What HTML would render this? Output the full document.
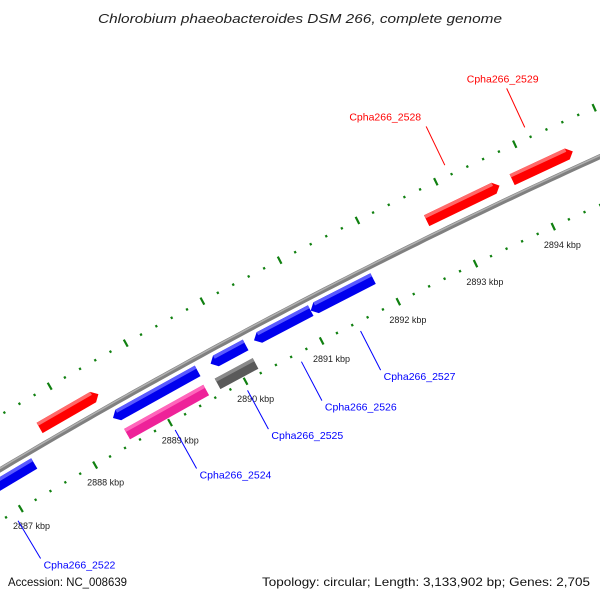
<!DOCTYPE html>
<html><head><meta charset="utf-8"><style>
html,body{margin:0;padding:0;background:#fff;}
svg{display:block;font-family:"Liberation Sans",sans-serif;}
</style></head><body>
<svg id="chart" width="600" height="600" viewBox="0 0 600 600">
<rect width="600" height="600" fill="#fff"/>
<text x="98" y="23" textLength="404" lengthAdjust="spacingAndGlyphs" font-size="13" font-style="italic" fill="#222">Chlorobium phaeobacteroides DSM 266, complete genome</text>
<g id="plot"></g>
<text x="8" y="586" textLength="119" lengthAdjust="spacingAndGlyphs" font-size="12" fill="#111">Accession: NC_008639</text>
<text x="262" y="586" textLength="328" lengthAdjust="spacingAndGlyphs" font-size="12" fill="#111">Topology: circular; Length: 3,133,902 bp; Genes: 2,705</text>
</svg>
<script>
// data (kbp)
const tickLabelsKbp = [2887, 2888, 2889, 2890, 2891, 2892, 2893, 2894];
const geneNames  = ["Cpha266_2522","Cpha266_2523","Cpha266_2524","Cpha266_2524cds","Cpha266_2525","Cpha266_2525cds","Cpha266_2526","Cpha266_2527","Cpha266_2528","Cpha266_2529"];
const geneStarts = [2886.4, 2887.66, 2888.45, 2888.5, 2889.74, 2889.7, 2890.31, 2891.05, 2892.71, 2893.80];
const geneEnds   = [2887.40, 2888.44, 2889.57, 2889.55, 2890.20, 2890.2, 2891.05, 2891.86, 2893.64, 2894.57];
const geneStrand = [-1, 1, -1, 0, -1, 0, -1, -1, 1, 1];
const geneLabeled = [true, false, true, false, true, false, true, true, true, true];

const NS="http://www.w3.org/2000/svg";
const plot=document.getElementById('plot');
const CX=3113, CY=5704;
function ang(k){return (-120.76+(k-2887)*0.816)*Math.PI/180;}
function P(k,r){const a=ang(k);return [CX+r*Math.cos(a),CY+r*Math.sin(a)];}
function mk(tag,attrs){const e=document.createElementNS(NS,tag);for(const a in attrs)e.setAttribute(a,attrs[a]);plot.appendChild(e);return e;}
function pts(a){return a.map(p=>p[0].toFixed(1)+","+p[1].toFixed(1)).join(" ");}

// backbone
const R0=6090;
let bb=[];for(let k=2886;k<=2895.5;k+=0.1)bb.push(P(k,R0));
let e=mk('polyline',{points:pts(bb),fill:'none',stroke:'#808080','stroke-width':5});


e=mk('polyline',{points:pts(bb),fill:'none',stroke:'#b0b0b0','stroke-width':1.5,transform:'translate(-0.6,-1)'});



// ticks on two rings
const rings=[6046,6137];
for(let i=0;i<=48;i++){
  const k=2886+i*0.2;
  const major=Math.abs(k-Math.round(k))<1e-6;
  rings.forEach((r,ri)=>{
    const a=P(k,r-(major?4:1.2)),b=P(k,r+(major?4:1.2));
    const t=mk('line',{x1:a[0],y1:a[1],x2:b[0],y2:b[1],stroke:'#108010','stroke-width':2.2});
    
    
  });
}
tickLabelsKbp.forEach(k=>{
  const p=P(k,6028);
  const t=mk('text',{x:p[0]-17,y:p[1]+5,'font-size':9,fill:'#222'});
  t.textContent=k+' kbp';
  
  
});

// genes
geneNames.forEach((n,i)=>{
  const s=geneStarts[i],en=geneEnds[i],st=geneStrand[i];
  let r1,r2,col,lite;
  if(st===1){r1=6100;r2=6112;col='#ff0000';lite='#ff6a6a';}
  else if(st===-1){r1=6072;r2=6084;col='#0000ee';lite='#5a5aff';}
  else{r1=6051;r2=6063;col=n.indexOf('2525')>=0?'#5a5a5a':'#ee2299';lite=n.indexOf('2525')>=0?'#8a8a8a':'#ff66bb';}
  const d=0.07, rm=(r1+r2)/2;
  let poly;
  if(st===1)poly=[P(s,r1),P(s,r2),P(en-d,r2),P(en,rm),P(en-d,r1)];
  else if(st===-1)poly=[P(s,rm),P(s+d,r2),P(en,r2),P(en,r1),P(s+d,r1)];
  else poly=[P(s,r1),P(s,r2),P(en,r2),P(en,r1)];
  const g=mk('polygon',{points:pts(poly),fill:col});
  
  
  const sa=st===-1?s+d:s, ea=st===1?en-d:en;
  const hl=mk('polygon',{points:pts([P(sa,r2-3.5),P(sa,r2),P(ea,r2),P(ea,r2-3.5)]),fill:lite});
  
  
  if(!geneLabeled[i])return;
  const m=(s+en)/2;
  if(st===1){
    const a=P(m,6148),b=P(m,6191);
    const l=mk('line',{x1:a[0],y1:a[1],x2:b[0],y2:b[1],stroke:'#ff0000','stroke-width':1});
    
    
    const top=n==='Cpha266_2529';
    const t=mk('text',{x:top?b[0]-4:b[0]-5,y:top?b[1]-6:b[1]-6,'font-size':10.5,fill:'#ff0000','text-anchor':top?'middle':'end'});
    t.textContent=n;
    
    
  }else{
    const a=P(m,6037),b=P(m,5993);
    const l=mk('line',{x1:a[0],y1:a[1],x2:b[0],y2:b[1],stroke:'#0000ff','stroke-width':1});
    
    
    const t=mk('text',{x:b[0]+3,y:b[1]+10,'font-size':10.5,fill:'#0000ff'});
    t.textContent=n;
    
    
  }
});
</script>
</body></html>
